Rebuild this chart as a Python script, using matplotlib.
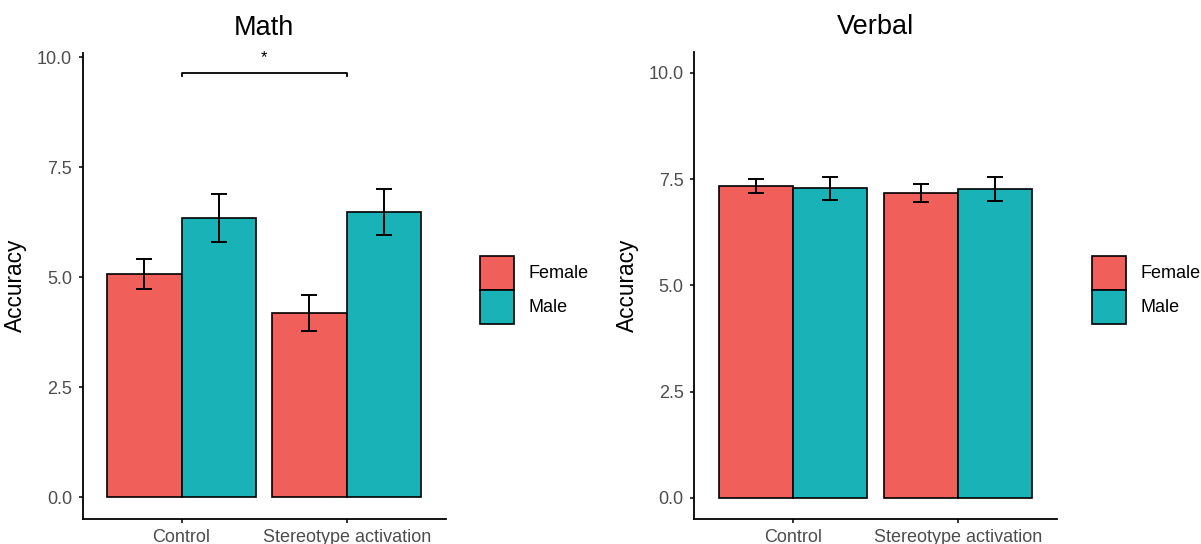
import numpy as np
import matplotlib.pyplot as plt
from matplotlib.patches import Patch

plt.rcParams['font.family'] = ['Liberation Sans', 'DejaVu Sans']

conditions = ['Control', 'Stereotype activation']
genders = ['Female', 'Male']
colors = ['#F15F5A', '#19B3B7']

# means and error half-widths, order = conditions
math_female = [5.08, 4.19]
math_female_err = [0.34, 0.41]
math_male = [6.35, 6.48]
math_male_err = [0.55, 0.52]

verbal_female = [7.34, 7.18]
verbal_female_err = [0.16, 0.21]
verbal_male = [7.28, 7.26]
verbal_male_err = [0.26, 0.28]

math_sig_y = 9.65
math_sig_label = '*'

yticks = [0.0, 2.5, 5.0, 7.5, 10.0]

fig = plt.figure(figsize=(12.01, 5.44), dpi=100)
ax1 = fig.add_axes([0.0687, 0.0465, 0.3024, 0.8566])
ax2 = fig.add_axes([0.5779, 0.0460, 0.3024, 0.8590])

x = np.arange(1, len(conditions) + 1)
w = 0.45


def draw(ax, title, fem, fem_err, mal, mal_err, ylim, leg_x):
    for vals, errs, col, off in [(fem, fem_err, colors[0], -w / 2), (mal, mal_err, colors[1], w / 2)]:
        ax.bar(x + off, vals, width=w, color=col, edgecolor='black', linewidth=1.2, zorder=2)
        ax.errorbar(x + off, vals, yerr=errs, fmt='none', ecolor='black',
                    elinewidth=1.4, capsize=5.8, capthick=1.4, zorder=3)
    ax.set_xlim(0.4, 2.6)
    ax.set_ylim(*ylim)
    ax.set_xticks(x)
    ax.set_xticklabels(conditions)
    ax.set_yticks(yticks)
    ax.set_yticklabels(['%.1f' % t for t in yticks])
    for s in ['top', 'right']:
        ax.spines[s].set_visible(False)
    for s in ['left', 'bottom']:
        ax.spines[s].set_linewidth(1.3)
    ax.tick_params(axis='both', length=3, width=1.1, labelsize=13, labelcolor='#4D4D4D')
    ax.tick_params(axis='y', pad=4.5)
    ax.tick_params(axis='x', pad=4.5)
    ax.set_title(title, fontsize=19.5, pad=12.7)
    ax.set_ylabel('Accuracy', fontsize=16.3)
    ax.yaxis.set_label_coords(-0.153, 0.5)
    handles = [Patch(facecolor=colors[i], edgecolor='black', linewidth=1.2, label=genders[i])
               for i in range(2)]
    ax.legend(handles=handles, loc='upper left', bbox_to_anchor=(leg_x, 1 - 256 / 544),
              bbox_transform=fig.transFigure, frameon=False, fontsize=13,
              handlelength=1.89, handleheight=2.5, labelspacing=0, handletextpad=0.8,
              borderpad=0, borderaxespad=0)


draw(ax1, 'Math', math_female, math_female_err, math_male, math_male_err, (-0.49, 10.1), 480 / 1201)
draw(ax2, 'Verbal', verbal_female, verbal_female_err, verbal_male, verbal_male_err, (-0.5, 10.5), 1091.5 / 1201)

# significance bracket between the two conditions (Math)
tick = 0.09
ax1.plot([x[0], x[0], x[1], x[1]], [math_sig_y - tick, math_sig_y, math_sig_y, math_sig_y - tick],
         color='black', linewidth=1.3, zorder=3)
ax1.text((x[0] + x[1]) / 2, math_sig_y + 0.16, math_sig_label, ha='center', va='bottom', fontsize=12)

fig.savefig('out.png', dpi=100)
